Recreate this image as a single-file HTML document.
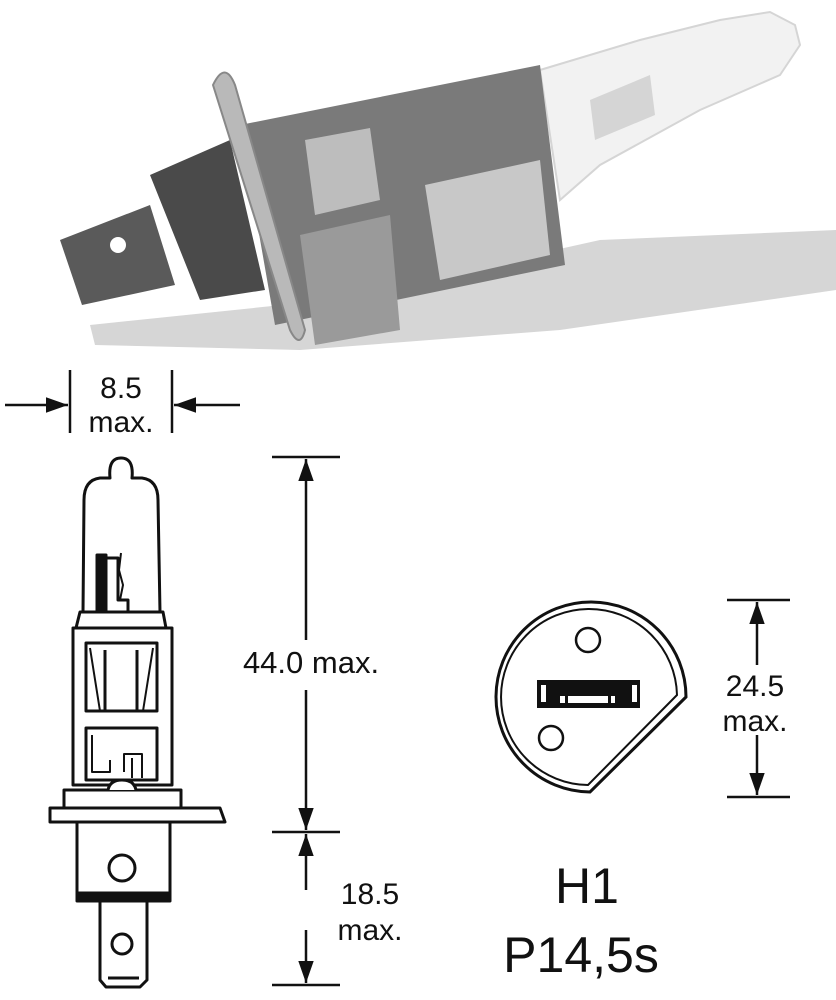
<!DOCTYPE html>
<html><head><meta charset="utf-8"><style>
html,body{margin:0;padding:0;background:#fff;}
svg{display:block}
text{font-family:"Liberation Sans",Arial,sans-serif;fill:#111}
</style></head><body>
<svg width="836" height="1000" viewBox="0 0 836 1000" xmlns="http://www.w3.org/2000/svg">
<defs>
<marker id="b" viewBox="0 0 10 10" refX="10" refY="5" markerWidth="22" markerHeight="22" markerUnits="userSpaceOnUse" orient="auto">
<path d="M0,1.5 L10,5 L0,8.5 z" fill="#111"/></marker>
</defs>
<!-- photo -->
<path d="M90,325 L330,300 L600,240 L836,230 L836,290 L560,330 L300,350 L95,345 z" fill="#d6d6d6"/>
<path d="M540,70 L640,40 L720,20 L770,12 L795,25 L800,45 L780,75 L700,110 L600,165 L560,200 z" fill="#f2f2f2" stroke="#d5d5d5" stroke-width="2"/>
<path d="M590,100 L650,75 L655,115 L595,140 z" fill="#d5d5d5"/>
<path d="M240,125 L540,65 L565,265 L275,325 z" fill="#7a7a7a"/>
<path d="M300,235 L390,215 L400,330 L315,345 z" fill="#9a9a9a"/>
<path d="M425,185 L540,160 L550,255 L440,280 z" fill="#c8c8c8"/>
<path d="M305,140 L370,128 L380,200 L315,215 z" fill="#bdbdbd"/>
<path d="M150,175 L230,140 L265,290 L200,300 z" fill="#4a4a4a"/>
<path d="M60,240 L150,205 L175,285 L82,305 z" fill="#5a5a5a"/>
<circle cx="118" cy="245" r="8" fill="#fff"/>
<path d="M213,85 Q225,60 235,85 L305,330 Q300,350 290,330 z" fill="#b9b9b9" stroke="#888" stroke-width="2"/>
<!-- dims -->
<g stroke="#111" stroke-width="2.5" fill="none">
<line x1="70" y1="370" x2="70" y2="433"/><line x1="172" y1="370" x2="172" y2="433"/>
<line x1="5" y1="405" x2="68" y2="405" marker-end="url(#b)"/>
<line x1="240" y1="405" x2="174" y2="405" marker-end="url(#b)"/>
<line x1="272" y1="457" x2="340" y2="457"/><line x1="272" y1="832" x2="340" y2="832"/><line x1="272" y1="985" x2="340" y2="985"/>
<line x1="306" y1="640" x2="306" y2="459" marker-end="url(#b)"/>
<line x1="306" y1="690" x2="306" y2="830" marker-end="url(#b)"/>
<line x1="306" y1="890" x2="306" y2="834" marker-end="url(#b)"/>
<line x1="306" y1="930" x2="306" y2="983" marker-end="url(#b)"/>
<line x1="727" y1="600" x2="790" y2="600"/><line x1="727" y1="797" x2="790" y2="797"/>
<line x1="757" y1="665" x2="757" y2="602" marker-end="url(#b)"/>
<line x1="757" y1="735" x2="757" y2="795" marker-end="url(#b)"/>
</g>
<text x="121" y="398" font-size="30" text-anchor="middle">8.5</text>
<text x="121" y="432" font-size="30" text-anchor="middle">max.</text>
<text x="311" y="673" font-size="31" text-anchor="middle">44.0 max.</text>
<text x="370" y="904" font-size="30" text-anchor="middle">18.5</text>
<text x="370" y="940" font-size="30" text-anchor="middle">max.</text>
<text x="755" y="696" font-size="30" text-anchor="middle">24.5</text>
<text x="755" y="731" font-size="30" text-anchor="middle">max.</text>
<text x="587" y="903" font-size="50" text-anchor="middle">H1</text>
<text x="581" y="972" font-size="50" text-anchor="middle">P14,5s</text>
<!-- bulb drawing -->
<g stroke="#111" stroke-width="3" fill="#fff" stroke-linejoin="round">
<path d="M83,612 L84,500 Q84,480 100,478 L110,478 Q108,458 121,458 Q134,458 132,478 L142,478 Q158,480 158,500 L160,612 z"/>
<path d="M80,612 L163,612 L166,628 L76,628 z"/>
<rect x="73" y="628" width="99" height="157"/>
<rect x="86" y="643" width="71" height="68"/>
<rect x="86" y="728" width="71" height="52"/>
<line x1="105" y1="650" x2="105" y2="711"/><line x1="137" y1="650" x2="137" y2="711"/>
<path d="M90,648 L100,711 M153,648 L143,711" fill="none" stroke-width="2"/>
<path d="M92,735 L92,772 L110,772 L110,760" fill="none" stroke-width="2"/>
<path d="M124,772 L124,754 L142,754 L142,778 M132,758 L132,778" fill="none" stroke-width="2"/>
<rect x="97" y="555" width="9" height="57" fill="#111"/>
<path d="M106,558 L118,558 L118,600 L128,600 L128,612" fill="none"/>
<path d="M121,553 L119,570 L123,585 L120,600" fill="none" stroke-width="2"/>
<rect x="64" y="790" width="117" height="18"/>
<path d="M108,790 Q110,780 122,780 Q134,780 136,790" />
<path d="M50,808 L220,808 L225,822 L50,822 z"/>
<rect x="77" y="822" width="93" height="78"/>
<rect x="77" y="893" width="93" height="8" fill="#111"/>
<circle cx="122" cy="868" r="13"/>
<path d="M100,901 L147,901 L147,980 L140,987 L106,987 L100,980 z"/>
<circle cx="122" cy="944" r="10"/>
<line x1="108" y1="978" x2="139" y2="978"/>
</g>
<!-- base view -->
<g stroke="#111" fill="none">
<path d="M686,697 L590,792 A95,95 0 1,1 686,697 z" stroke-width="3"/>
<path d="M677,695 L588,785 A88,88 0 1,1 677,695 z" stroke-width="2"/>
<circle cx="588" cy="640" r="12" stroke-width="2.5"/>
<circle cx="551" cy="738" r="12" stroke-width="2.5"/>
</g>
<rect x="537" y="680" width="103" height="28" fill="#111"/>
<rect x="541" y="685" width="5" height="17" fill="#fff"/>
<rect x="632" y="685" width="5" height="17" fill="#fff"/>
<rect x="560" y="696" width="55" height="7" fill="#fff"/>
<rect x="565" y="696" width="3" height="7" fill="#111"/><rect x="608" y="696" width="3" height="7" fill="#111"/>
</svg>
</body></html>
